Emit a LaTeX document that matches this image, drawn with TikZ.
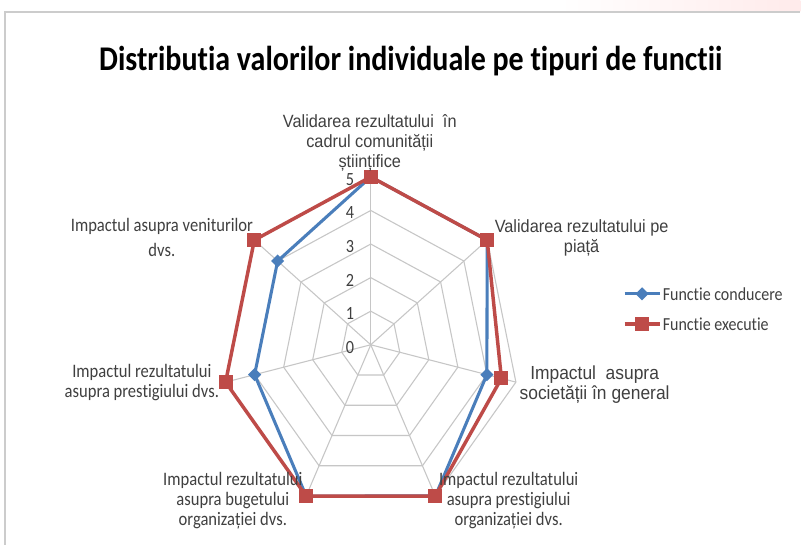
\documentclass[tikz,border=0pt]{standalone}
\usepackage{fontspec}
\setmainfont{Carlito}
\newfontfamily\titf[FakeStretch=0.865, Ligatures=NoCommon]{Carlito}
\newfontfamily\calf[FakeStretch=0.87, Ligatures=NoCommon]{Carlito}
\newfontfamily\arif[FakeStretch=0.92]{Liberation Sans}
\usetikzlibrary{shapes.geometric,calc}

\definecolor{condblue}{HTML}{4A7EBB}
\definecolor{execred}{HTML}{BE4B48}
\definecolor{webgray}{HTML}{C6C6C6}
\definecolor{txtgray}{HTML}{404040}

\tikzset{
  web/.style={draw=webgray, line width=0.8pt},
  cond/.style={draw=condblue, line width=2.3pt, line join=round},
  exec/.style={draw=execred, line width=2.6pt, line join=round},
  condmark/.style={diamond, fill=condblue, minimum size=10pt, inner sep=0pt},
  execmark/.style={rectangle, fill=execred, minimum size=10.5pt, inner sep=0pt},
  lbl/.style={font=\calf\fontsize{14.3}{15}\selectfont, text=txtgray, align=center, inner sep=0pt},
  albl/.style={font=\arif\fontsize{13.3}{15}\selectfont, text=txtgray, align=center, inner sep=0pt},
  tick/.style={font=\calf\fontsize{14}{14}\selectfont, text=txtgray, inner sep=0pt}
}

\begin{document}
\begin{tikzpicture}[x=0.75pt, y=-0.75pt]

    % Frame
    \fill[white] (0,0) rectangle (801,545);
    \shade[left color=white, right color=red!8] (560,0) rectangle (801,12);
    \draw[gray!40, line width=0.8pt] (5,545) -- (5,12) -- (801,12);
    \useasboundingbox (0,0) rectangle (801,545);

    % Title
    \node[font=\titf\bfseries\fontsize{26}{30}\selectfont, anchor=base] (title) at (411,71)
      {Distributia valorilor individuale pe tipuri de functii};

    % Radar, one unit per value step
    \begin{scope}[shift={(371,345)}, x=22.35pt, y=25.2pt]
      \coordinate (o) at (0,0);
      \foreach \k in {0,...,6} \coordinate (a\k) at ({90-360/7*\k}:5);
      \foreach \r in {1,...,5}
        \draw[web] plot[samples at={0,...,6}, variable=\k] ({90-360/7*\k}:\r) -- cycle;
      \foreach \k in {0,...,6} \draw[web] (o) -- (a\k);

      % Ticks
      \foreach \n in {0,...,5}
        \node[tick] (t\n) at (-0.7,{\n-0.07}) {\n};

      % Series
      \foreach \k/\n in {0/5,1/5,2/4,3/5,4/5,5/4,6/4}
        \coordinate (cd\k) at ({90-360/7*\k}:\n);
      \foreach \k/\n in {0/5,1/5,2/4.5,3/5,4/5,5/5,6/5}
        \coordinate (ex\k) at ({90-360/7*\k}:\n);
      \draw[cond] (cd0) -- (cd1) -- (cd2) -- (cd3) -- (cd4) -- (cd5) -- (cd6) -- cycle;
      \draw[exec] (ex0) -- (ex1) -- (ex2) -- (ex3) -- (ex4) -- (ex5) -- (ex6) -- cycle;
      \foreach \k in {0,...,6} \node[condmark] at (cd\k) {};
      \foreach \k in {0,...,6} \node[execmark] at (ex\k) {};
    \end{scope}

    % Axis labels
    \node[albl] (l0) at (370,143) {Validarea rezultatului\ \ în\\cadrul comunității\\științifice};
    \node[albl] (l1) at (582,238) {Validarea rezultatului pe\\piață};
    \node[albl, font=\arif\fontsize{14.2}{15}\selectfont] (l2) at (595,385) {Impactul\ \ asupra\\societății în general};
    \node[lbl]  (l3) at (509,501) {Impactul rezultatului\\asupra prestigiului\\organizației dvs.};
    \node[lbl]  (l4) at (233,501) {Impactul rezultatului\\asupra bugetului\\organizației dvs.};
    \node[lbl]  (l5) at (142,383) {Impactul rezultatului\\asupra prestigiului dvs.};
    \node[lbl, font=\calf\fontsize{14.3}{18.75}\selectfont] (l6) at (162,238) {Impactul asupra veniturilor\\dvs.};

    % Legend
    \coordinate (lc1) at (625,294); \coordinate (lc2) at (660,294);
    \coordinate (le1) at (625,324); \coordinate (le2) at (660,324);
    \draw[cond] (lc1) -- (lc2);
    \draw[exec] (le1) -- (le2);
    \node[condmark] at ($(lc1)!.5!(lc2)$) {};
    \node[execmark] at ($(le1)!.5!(le2)$) {};
    \node[lbl, font=\calf\fontsize{13.8}{15}\selectfont, anchor=west] (legc) at (663,294) {Functie conducere};
    \node[lbl, font=\calf\fontsize{13.8}{15}\selectfont, anchor=west] (lege) at (663,324) {Functie executie};

\end{tikzpicture}
\end{document}
